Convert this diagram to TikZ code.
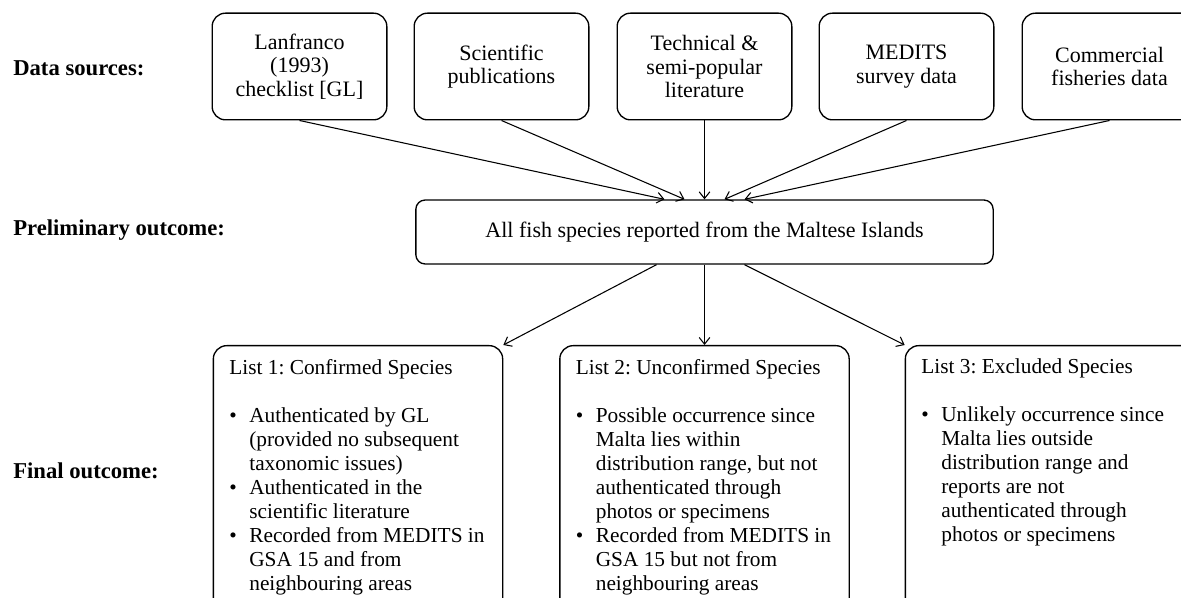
\documentclass[tikz,border=0pt]{standalone}
\usepackage{fontspec}
\setmainfont{Liberation Serif}
\usetikzlibrary{calc,arrows.meta}
\frenchspacing
\newcommand{\bul}{\makebox[15pt][l]{\textbullet}}
\newcommand{\ind}{\hspace*{15pt}}

\begin{document}
\begin{tikzpicture}[x=0.75pt,y=-0.75pt,
		every node/.style={font=\fontsize{16.5}{17.5}\selectfont},
		srcbox/.style={draw,line width=1pt,rounded corners=10pt,minimum width=131pt,minimum height=80pt,align=center,inner sep=2pt},
		midbox/.style={draw,line width=1pt,rounded corners=7pt,minimum width=433pt,minimum height=48pt},
		listbox/.style={draw,line width=1pt,rounded corners=10pt,inner xsep=12pt,inner ysep=10pt,anchor=north,font=\fontsize{16}{18}\selectfont},
		stage/.style={font=\fontsize{17}{18}\selectfont\bfseries,anchor=west,inner sep=0pt},
		flow/.style={line width=0.8pt,-{Straight Barb[length=5pt,width=8pt]}}]
				\useasboundingbox (0,0) rectangle (1181,598);
				
				%row labels
				\node[stage] (lblsrc) at (13,68) {Data sources:};
				\node[stage] (lblpre) at (13,230) {Preliminary outcome:};
				\node[stage] (lblfin) at (13,471) {Final outcome:};
				
				%data sources
				\node[srcbox] (src1) at (299.5,66.5) {Lanfranco\\(1993)\\checklist [GL]};
				\node[srcbox] (src2) at (501.5,66.5) {Scientific\\publications};
				\node[srcbox] (src3) at (704.5,66.5) {Technical \&\\semi-popular\\literature};
				\node[srcbox] (src4) at (906.5,66.5) {MEDITS\\survey data};
				\node[srcbox] (src5) at (1109.5,66.5) {Commercial\\fisheries data};
				
				%preliminary outcome
				\node[midbox] (prelim) at (704.5,232) {All fish species reported from the Maltese Islands};
				
				%final outcome
				\node[listbox] (list1) at (358,345) {\parbox[c][180pt][t]{193pt}{\raggedright
						List 1: Confirmed Species\\[18pt]
						\bul Authenticated by GL\\
						\ind (provided no subsequent\\
						\ind taxonomic issues)\\
						\bul Authenticated in the\\
						\ind scientific literature\\
						\bul Recorded from MEDITS in\\
						\ind GSA 15 and from\\
						\ind neighbouring areas}};
				\node[listbox] (list2) at (704.5,345) {\parbox[c][180pt][t]{193pt}{\raggedright
						List 2: Unconfirmed Species\\[18pt]
						\bul Possible occurrence since\\
						\ind Malta lies within\\
						\ind distribution range, but not\\
						\ind authenticated through\\
						\ind photos or specimens\\
						\bul Recorded from MEDITS in\\
						\ind GSA 15 but not from\\
						\ind neighbouring areas}};
				\node[listbox] (list3) at (1050,345) {\parbox[c][180pt][t]{193pt}{\raggedright
						List 3: Excluded Species\\[18pt]
						\bul Unlikely occurrence since\\
						\ind Malta lies outside\\
						\ind distribution range and\\
						\ind reports are not\\
						\ind authenticated through\\
						\ind photos or specimens}};
				
				%arrows
				\foreach \s/\dx in {src1/-40,src2/-20,src3/0,src4/20,src5/40}
				\draw[flow] (\s.south) -- ($(prelim.north)+(\dx,0)$);
				\draw[flow] ($(prelim.south)+(-48,0)$) -- (list1.north east);
				\draw[flow] (prelim.south) -- (list2.north);
				\draw[flow] ($(prelim.south)+(40,0)$) -- (list3.north west);
				
			\end{tikzpicture}
\end{document}
